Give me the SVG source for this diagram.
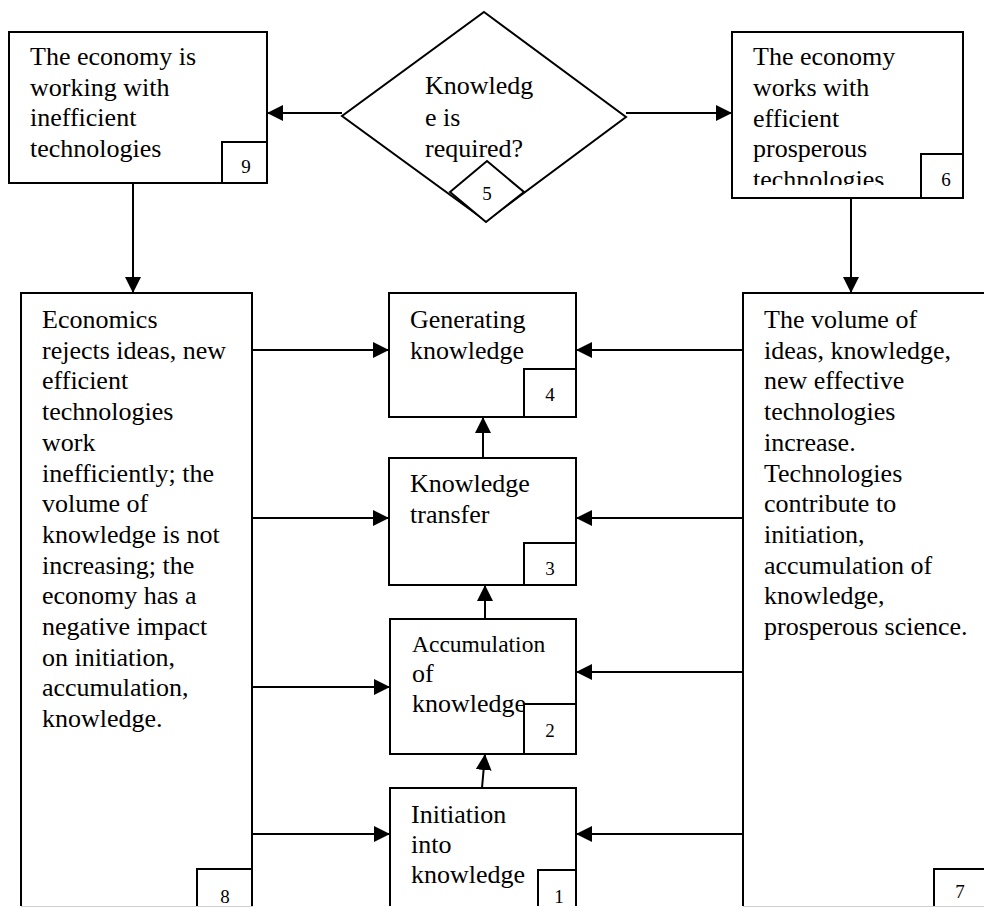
<svg xmlns="http://www.w3.org/2000/svg" width="984" height="907" viewBox="0 0 984 907">
<style>
.box{fill:#fff;stroke:#000;stroke-width:2}
.t{font-family:"Liberation Serif","Times New Roman",serif;font-size:26px;fill:#000}
.s{font-size:23.5px}
.n{font-family:"Liberation Serif","Times New Roman",serif;font-size:19px;fill:#000;text-anchor:middle}
.c{fill:none;stroke:#000;stroke-width:2}
</style>
<defs>
<marker id="ah" markerUnits="userSpaceOnUse" markerWidth="18" markerHeight="18" refX="16" refY="8" orient="auto">
<path d="M0,0 L16,8 L0,16 Z" fill="#000"/>
</marker>
<clipPath id="c6"><rect x="733" y="33" width="230" height="152"/></clipPath>
<clipPath id="c5"><rect x="470" y="180" width="40" height="22"/></clipPath>
<clipPath id="cb"><rect x="0" y="0" width="984" height="906"/></clipPath>
</defs>
<rect width="984" height="907" fill="#fff"/>

<g id="node9">
<rect class="box" x="9" y="32" width="258" height="151"/>
<text class="t" x="30" y="65">The economy is</text>
<text class="t" x="30" y="96">working with</text>
<text class="t" x="30" y="126">inefficient</text>
<text class="t" x="30" y="157">technologies</text>
<rect class="box" x="222" y="142" width="45" height="41"/>
<text class="n" x="246" y="173">9</text>
</g>

<g id="node5">
<polygon class="box" points="484,12 626,117 486,221 342,116"/>
<text class="t" x="425" y="94">Knowledg</text>
<text class="t" x="425" y="126">e is</text>
<text class="t" x="425" y="157">required?</text>
<polygon class="box" points="487,161 524,192 486,222 450,192"/>
<text class="n" x="487" y="200" clip-path="url(#c5)">5</text>
</g>

<g id="node6">
<rect class="box" x="732" y="32" width="231" height="166"/>
<g clip-path="url(#c6)">
<text class="t" x="753" y="65">The economy</text>
<text class="t" x="753" y="96">works with</text>
<text class="t" x="753" y="127">efficient</text>
<text class="t" x="753" y="157">prosperous</text>
<text class="t" x="753" y="188">technologies</text>
</g>
<rect class="box" x="921" y="154" width="42" height="44"/>
<text class="n" x="946" y="186">6</text>
</g>

<g clip-path="url(#cb)">
<g id="node8">
<rect class="box" x="21" y="293" width="231" height="640"/>
<text class="t" x="42" y="328">Economics</text>
<text class="t" x="42" y="359">rejects ideas, new</text>
<text class="t" x="42" y="389">efficient</text>
<text class="t" x="42" y="420">technologies</text>
<text class="t" x="42" y="451">work</text>
<text class="t" x="42" y="482">inefficiently; the</text>
<text class="t" x="42" y="512">volume of</text>
<text class="t" x="42" y="543">knowledge is not</text>
<text class="t" x="42" y="574">increasing; the</text>
<text class="t" x="42" y="604">economy has a</text>
<text class="t" x="42" y="635">negative impact</text>
<text class="t" x="42" y="666">on initiation,</text>
<text class="t" x="42" y="696">accumulation,</text>
<text class="t" x="42" y="727">knowledge.</text>
<rect class="box" x="197" y="869" width="55" height="60"/>
<text class="n" x="225" y="903">8</text>
</g>

<g id="node7">
<rect class="box" x="743" y="293" width="260" height="640"/>
<text class="t" x="764" y="328">The volume of</text>
<text class="t" x="764" y="359">ideas, knowledge,</text>
<text class="t" x="764" y="389">new effective</text>
<text class="t" x="764" y="420">technologies</text>
<text class="t" x="764" y="451">increase.</text>
<text class="t" x="764" y="482">Technologies</text>
<text class="t" x="764" y="512">contribute to</text>
<text class="t" x="764" y="543">initiation,</text>
<text class="t" x="764" y="574">accumulation of</text>
<text class="t" x="764" y="604">knowledge,</text>
<text class="t" x="764" y="635">prosperous science.</text>
<rect class="box" x="934" y="869" width="70" height="60"/>
<text class="n" x="960" y="898">7</text>
</g>

<g id="node1">
<rect class="box" x="390" y="788" width="186" height="140"/>
<text class="t" x="411" y="823">Initiation</text>
<text class="t" x="411" y="853">into</text>
<text class="t" x="411" y="883">knowledge</text>
<rect class="box" x="538" y="870" width="38" height="60"/>
<text class="n" x="559" y="903">1</text>
</g>
</g>

<g id="node4">
<rect class="box" x="389" y="293" width="187" height="124"/>
<text class="t" x="410" y="328">Generating</text>
<text class="t" x="410" y="359">knowledge</text>
<rect class="box" x="524" y="369" width="52" height="48"/>
<text class="n" x="550" y="401">4</text>
</g>

<g id="node3">
<rect class="box" x="389" y="458" width="187" height="127"/>
<text class="t" x="410" y="492">Knowledge</text>
<text class="t" x="410" y="523">transfer</text>
<rect class="box" x="524" y="543" width="52" height="42"/>
<text class="n" x="550" y="575">3</text>
</g>

<g id="node2">
<rect class="box" x="390" y="619" width="186" height="135"/>
<text class="t s" x="412" y="652">Accumulation</text>
<text class="t" x="412" y="682">of</text>
<text class="t" x="412" y="712">knowledge</text>
<rect class="box" x="524" y="704" width="52" height="50"/>
<text class="n" x="550" y="737">2</text>
</g>

<line x1="21" y1="906.5" x2="253" y2="906.5" stroke="#cfcfcf" stroke-width="1"/>
<line x1="743" y1="906.5" x2="984" y2="906.5" stroke="#cfcfcf" stroke-width="1"/>

<g id="connectors">
<line class="c" x1="342" y1="113" x2="267" y2="113" marker-end="url(#ah)"/>
<line class="c" x1="626" y1="113" x2="732" y2="113" marker-end="url(#ah)"/>
<line class="c" x1="133" y1="183" x2="133" y2="293" marker-end="url(#ah)"/>
<line class="c" x1="851" y1="198" x2="851" y2="293" marker-end="url(#ah)"/>
<line class="c" x1="252" y1="350" x2="389" y2="350" marker-end="url(#ah)"/>
<line class="c" x1="252" y1="518" x2="389" y2="518" marker-end="url(#ah)"/>
<line class="c" x1="252" y1="687" x2="390" y2="687" marker-end="url(#ah)"/>
<line class="c" x1="252" y1="834" x2="390" y2="834" marker-end="url(#ah)"/>
<line class="c" x1="743" y1="350" x2="576" y2="350" marker-end="url(#ah)"/>
<line class="c" x1="743" y1="518" x2="576" y2="518" marker-end="url(#ah)"/>
<line class="c" x1="743" y1="672" x2="576" y2="672" marker-end="url(#ah)"/>
<line class="c" x1="743" y1="834" x2="576" y2="834" marker-end="url(#ah)"/>
<line class="c" x1="483" y1="458" x2="483" y2="417" marker-end="url(#ah)"/>
<line class="c" x1="485" y1="619" x2="485" y2="585" marker-end="url(#ah)"/>
<line class="c" x1="482" y1="788" x2="485" y2="754" marker-end="url(#ah)"/>
</g>
</svg>
